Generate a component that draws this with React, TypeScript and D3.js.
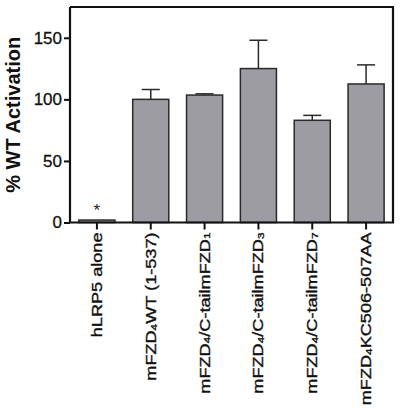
import { useEffect, useRef } from "react";
import * as d3 from "d3";

// Cada etiqueta: partes de texto, con subíndices marcados.
const categorias = [
  [{ t: "hLRP5 alone" }],
  [{ t: "mFZD" }, { t: "4", sub: true }, { t: "WT (1-537)" }],
  [{ t: "mFZD" }, { t: "4", sub: true }, { t: "/C-tailmFZD" }, { t: "1", sub: true }],
  [{ t: "mFZD" }, { t: "4", sub: true }, { t: "/C-tailmFZD" }, { t: "3", sub: true }],
  [{ t: "mFZD" }, { t: "4", sub: true }, { t: "/C-tailmFZD" }, { t: "7", sub: true }],
  [{ t: "mFZD" }, { t: "4", sub: true }, { t: "KC506-507AA" }],
];
const valores = [2, 100, 103.5, 125, 83, 112.5];
const errores = [0, 8, 1, 23, 4, 15.5];
const marcas = ["*", "", "", "", "", ""];
const ticksY = [0, 50, 100, 150];

const ANCHO = 400;
const ALTO = 409;

export default function App() {
  const svgRef = useRef<SVGSVGElement>(null);

  useEffect(() => {
    if (!svgRef.current) return;
    const svg = d3.select(svgRef.current);
    svg.selectAll("*").remove();

    const izq = 70;
    const der = 393;
    const arriba = 7;
    const base = 222.5;

    const x = d3
      .scaleBand<number>()
      .domain(valores.map((_, i) => i))
      .range([izq, der])
      .paddingInner(0.33)
      .paddingOuter(0.165);
    const y = d3.scaleLinear().domain([0, 175]).range([base, arriba]);

    const fuente = "Arial, 'Liberation Sans', Helvetica, sans-serif";

    // Barras
    svg
      .append("g")
      .selectAll("rect")
      .data(valores)
      .enter()
      .append("rect")
      .attr("x", (_, i) => x(i)!)
      .attr("y", (d) => y(d))
      .attr("width", x.bandwidth())
      .attr("height", (d) => base - y(d))
      .attr("fill", "#9d9ca3")
      .attr("stroke", "#2a2a2a")
      .attr("stroke-width", 1.5);

    // Barras de error (sólo hacia arriba)
    const gErr = svg.append("g").attr("stroke", "#2a2a2a").attr("stroke-width", 1.5);
    valores.forEach((v, i) => {
      if (!errores[i]) return;
      const cx = x(i)! + x.bandwidth() / 2;
      gErr
        .append("line")
        .attr("x1", cx)
        .attr("x2", cx)
        .attr("y1", y(v))
        .attr("y2", y(v + errores[i]));
      gErr
        .append("line")
        .attr("x1", cx - 9)
        .attr("x2", cx + 9)
        .attr("y1", y(v + errores[i]))
        .attr("y2", y(v + errores[i]));
    });

    // Asteriscos de significancia
    svg
      .append("g")
      .selectAll("text")
      .data(marcas)
      .enter()
      .append("text")
      .attr("x", (_, i) => x(i)! + x.bandwidth() / 2)
      .attr("y", (_, i) => y(valores[i]) - 4)
      .attr("text-anchor", "middle")
      .attr("font-family", fuente)
      .attr("font-size", 17)
      .attr("fill", "#222")
      .text((d) => d);

    // Marco: arriba y derecha
    svg
      .append("path")
      .attr("d", `M${izq},${arriba}H${der}V${base}`)
      .attr("fill", "none")
      .attr("stroke", "#111")
      .attr("stroke-width", 2.2);

    // Eje Y
    const ejeY = svg
      .append("g")
      .attr("transform", `translate(${izq},0)`)
      .call(d3.axisLeft(y).tickValues(ticksY).tickSize(6).tickPadding(2).tickSizeOuter(0));
    ejeY.select(".domain").attr("stroke", "#111").attr("stroke-width", 2.2).attr("d", `M0,${base}V${arriba}`);
    ejeY.selectAll(".tick line").attr("stroke", "#111").attr("stroke-width", 2);
    ejeY
      .selectAll(".tick text")
      .attr("font-family", fuente)
      .attr("font-size", 17)
      .attr("fill", "#111")
      .attr("stroke", "#111")
      .attr("stroke-width", 0.3);

    // Eje X
    svg
      .append("line")
      .attr("x1", izq - 1)
      .attr("x2", der + 1)
      .attr("y1", base)
      .attr("y2", base)
      .attr("stroke", "#111")
      .attr("stroke-width", 2.2);
    svg
      .append("g")
      .selectAll("line")
      .data(valores)
      .enter()
      .append("line")
      .attr("x1", (_, i) => x(i)! + x.bandwidth() / 2)
      .attr("x2", (_, i) => x(i)! + x.bandwidth() / 2)
      .attr("y1", base)
      .attr("y2", base + 7)
      .attr("stroke", "#111")
      .attr("stroke-width", 2);

    // Etiquetas X rotadas, estiradas a lo largo del texto como en el original
    categorias.forEach((partes, i) => {
      const cx = x(i)! + x.bandwidth() / 2;
      const txt = svg
        .append("text")
        .attr("transform", `translate(${cx + 5},${base + 10}) rotate(-90) scale(1.25,1)`)
        .attr("text-anchor", "end")
        .attr("font-family", fuente)
        .attr("font-size", 14.5)
        .attr("fill", "#111")
        .attr("stroke", "#111")
        .attr("stroke-width", 0.35);
      partes.forEach((p: { t: string; sub?: boolean }) => {
        const ts = txt.append("tspan").text(p.t);
        if (p.sub) ts.attr("font-size", 9.5).attr("baseline-shift", "-1");
      });
    });

    // Título del eje Y
    svg
      .append("text")
      .attr("transform", `translate(20,${(arriba + base) / 2}) rotate(-90)`)
      .attr("text-anchor", "middle")
      .attr("font-family", fuente)
      .attr("font-size", 20)
      .attr("font-weight", "bold")
      .attr("fill", "#111")
      .text("% WT Activation");
  }, []);

  return (
    <svg
      ref={svgRef}
      width={ANCHO}
      height={ALTO}
      viewBox={`0 0 ${ANCHO} ${ALTO}`}
      style={{ position: "absolute", left: 0, top: 0, background: "#fff" }}
    />
  );
}
